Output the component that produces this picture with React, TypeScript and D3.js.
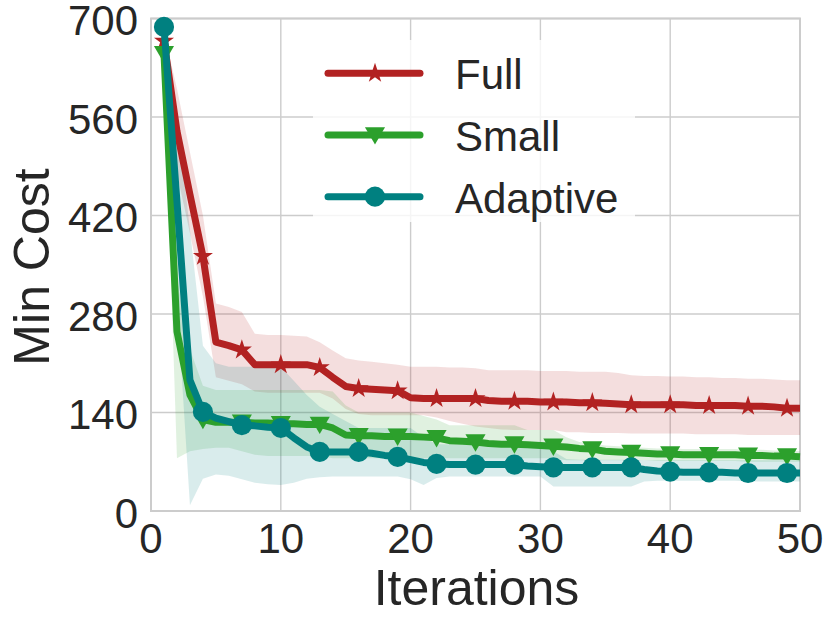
import * as React from 'react';
import * as d3 from 'd3';

const W = 830;
const H = 623;

const xTicks = [0, 10, 20, 30, 40, 50];
const yTicks = [0, 140, 280, 420, 560, 700];
const iterations = d3.range(1, 51);

// mean min cost per iteration
const fullMean = [668, 540, 450, 362, 240, 235, 229, 208, 208, 208,
  208, 208, 204, 190, 177, 174, 173, 172, 171, 161,
  160, 160, 160, 160, 160, 157, 156, 156, 156, 155,
  155, 155, 154, 154, 153, 152, 151, 151, 151, 151,
  151, 150, 150, 150, 150, 149, 149, 148, 146, 146];
const fullUpper = [680, 600, 510, 420, 295, 290, 283, 252, 250, 250,
  249, 248, 240, 228, 217, 214, 212, 210, 208, 205,
  205, 205, 204, 204, 203, 200, 200, 200, 200, 199,
  199, 199, 198, 198, 198, 196, 193, 192, 192, 191,
  191, 190, 190, 189, 189, 188, 188, 187, 186, 186];
const fullLower = [655, 480, 395, 305, 190, 185, 180, 170, 168, 168,
  168, 168, 168, 160, 145, 138, 136, 136, 136, 136,
  136, 133, 128, 124, 120, 118, 116, 115, 115, 115,
  115, 112, 112, 111, 111, 111, 110, 110, 110, 110,
  110, 109, 109, 109, 109, 108, 108, 108, 108, 108];

const smallMean = [650, 255, 165, 130, 126, 126, 126, 125, 125, 124,
  124, 123, 123, 118, 108, 107, 107, 106, 106, 106,
  105, 104, 100, 99, 98, 96, 95, 95, 94, 93,
  92, 91, 89, 88, 85, 84, 83, 82, 81, 81,
  80, 80, 80, 80, 80, 79, 79, 78, 78, 77];
const smallUpper = [665, 330, 230, 178, 172, 172, 172, 172, 172, 172,
  172, 172, 172, 170, 150, 140, 140, 140, 140, 140,
  135, 130, 122, 122, 122, 122, 122, 122, 115, 115,
  115, 105, 98, 96, 93, 92, 91, 90, 89, 89,
  88, 88, 88, 88, 88, 87, 87, 86, 86, 85];
const smallLower = [635, 75, 85, 88, 90, 90, 85, 80, 78, 78,
  78, 78, 78, 75, 75, 75, 75, 75, 75, 75,
  75, 75, 75, 75, 75, 75, 75, 75, 75, 75,
  75, 72, 72, 72, 72, 72, 72, 72, 71, 71,
  71, 71, 71, 71, 71, 70, 70, 70, 70, 70];

const adaptiveMean = [688, 440, 186, 141, 132, 127, 122, 121, 119, 118,
  104, 91, 84, 84, 84, 84, 82, 79, 77, 73,
  69, 67, 66, 66, 66, 66, 66, 66, 64, 63,
  62, 62, 62, 62, 62, 62, 62, 59, 57, 56,
  55, 55, 55, 55, 54, 54, 54, 54, 54, 54];
const adaptiveUpper = [695, 560, 400, 235, 210, 205, 205, 205, 205, 205,
  185, 165, 148, 138, 128, 118, 118, 118, 118, 118,
  105, 95, 95, 95, 95, 95, 95, 95, 95, 95,
  85, 74, 73, 73, 73, 73, 73, 72, 72, 72,
  72, 72, 72, 72, 72, 72, 72, 72, 72, 72];
const adaptiveLower = [680, 300, 8, 46, 52, 50, 45, 40, 38, 37,
  40, 46, 48, 49, 49, 49, 49, 49, 49, 45,
  37, 47, 49, 49, 49, 49, 49, 49, 49, 49,
  35, 35, 35, 35, 35, 35, 35, 42, 43, 43,
  43, 43, 43, 43, 43, 42, 42, 42, 42, 42];

const seriesNames = ['Full', 'Small', 'Adaptive'];
const seriesColors = ['#b22222', '#2ca02c', '#008080'];
const seriesMarkers = ['star', 'triangle', 'circle'];
const seriesMean = [fullMean, smallMean, adaptiveMean];
const seriesUpper = [fullUpper, smallUpper, adaptiveUpper];
const seriesLower = [fullLower, smallLower, adaptiveLower];

const FONT = '"Liberation Sans", Arial, sans-serif';
const TEXT = '#262626';
const GRID = '#cccccc';

function markerPath(kind: string) {
  if (kind === 'star') return d3.symbol(d3.symbolStar, 125)()!;
  if (kind === 'triangle') return d3.symbol(d3.symbolTriangle, 175)()!;
  return d3.symbol(d3.symbolCircle, 320)()!;
}

function Marker({ kind, x, y, color }: { kind: string; x: number; y: number; color: string }) {
  const rot = kind === 'triangle' ? ' rotate(180)' : '';
  const dy = kind === 'triangle' ? -2 : 0;
  return <path d={markerPath(kind)} fill={color} transform={`translate(${x},${y + dy})${rot}`} />;
}

export default function App() {
  const left = 151, right = 800, top = 18.5, bottom = 511;
  const x = d3.scaleLinear().domain([0, 50]).range([left, right]);
  const y = d3.scaleLinear().domain([0, 700]).range([bottom, top]);

  const line = d3.line<number>()
    .x((_, i) => x(iterations[i]))
    .y(d => y(d));

  const area = (lo: number[], hi: number[]) =>
    d3.area<number>()
      .x(i => x(iterations[i]))
      .y0(i => y(lo[i]))
      .y1(i => y(hi[i]))(iterations.map((_, i) => i))!;

  const legendY = [73.3, 135, 196.7];

  return (
    <svg width={W} height={H} style={{ position: 'absolute', left: 0, top: 0, background: '#fff' }}
      fontFamily={FONT}>
      <rect x={0} y={0} width={W} height={H} fill="#fff" />
      {/* grid */}
      {xTicks.map(t => (
        <line key={'gx' + t} x1={x(t)} x2={x(t)} y1={top} y2={bottom} stroke={GRID} strokeWidth={1.4} />
      ))}
      {yTicks.map(t => (
        <line key={'gy' + t} x1={left} x2={right} y1={y(t)} y2={y(t)} stroke={GRID} strokeWidth={1.4} />
      ))}
      <rect x={left} y={top} width={right - left} height={bottom - top} fill="none" stroke={GRID} strokeWidth={2} />

      {/* bands */}
      {seriesNames.map((n, s) => (
        <path key={'band' + n} d={area(seriesLower[s], seriesUpper[s])} fill={seriesColors[s]} fillOpacity={0.15} />
      ))}

      {/* lines + markers */}
      {seriesNames.map((n, s) => (
        <g key={'line' + n}>
          <path d={line(seriesMean[s])!} fill="none" stroke={seriesColors[s]} strokeWidth={7}
            strokeLinejoin="round" strokeLinecap="butt" />
          {seriesMean[s].map((v, i) => i % 3 === 0 ? (
            <Marker key={i} kind={seriesMarkers[s]} x={x(iterations[i])} y={y(v)} color={seriesColors[s]} />
          ) : null)}
        </g>
      ))}

      {/* ticks */}
      {xTicks.map(t => (
        <text key={'tx' + t} x={x(t)} y={553} textAnchor="middle" fontSize={42} fill={TEXT}>{t}</text>
      ))}
      {yTicks.map(t => (
        <text key={'ty' + t} x={138} y={y(t) + 2} textAnchor="end" dominantBaseline="central" fontSize={42} fill={TEXT}>{t}</text>
      ))}

      <text x={476.5} y={605} textAnchor="middle" fontSize={50} fill={TEXT}>Iterations</text>
      <text transform={`translate(49,267) rotate(-90)`} textAnchor="middle" fontSize={50} fill={TEXT}>Min Cost</text>

      {/* legend */}
      <rect x={313} y={40} width={322} height={182} fill="#fff" fillOpacity={0.8} />
      {seriesNames.map((n, s) => (
        <g key={'leg' + n}>
          <line x1={328} x2={420} y1={legendY[s]} y2={legendY[s]} stroke={seriesColors[s]} strokeWidth={7} strokeLinecap="round" />
          <Marker kind={seriesMarkers[s]} x={375} y={legendY[s]} color={seriesColors[s]} />
          <text x={455} y={legendY[s] + 16} fontSize={42} fill={TEXT}>{n}</text>
        </g>
      ))}
    </svg>
  );
}
